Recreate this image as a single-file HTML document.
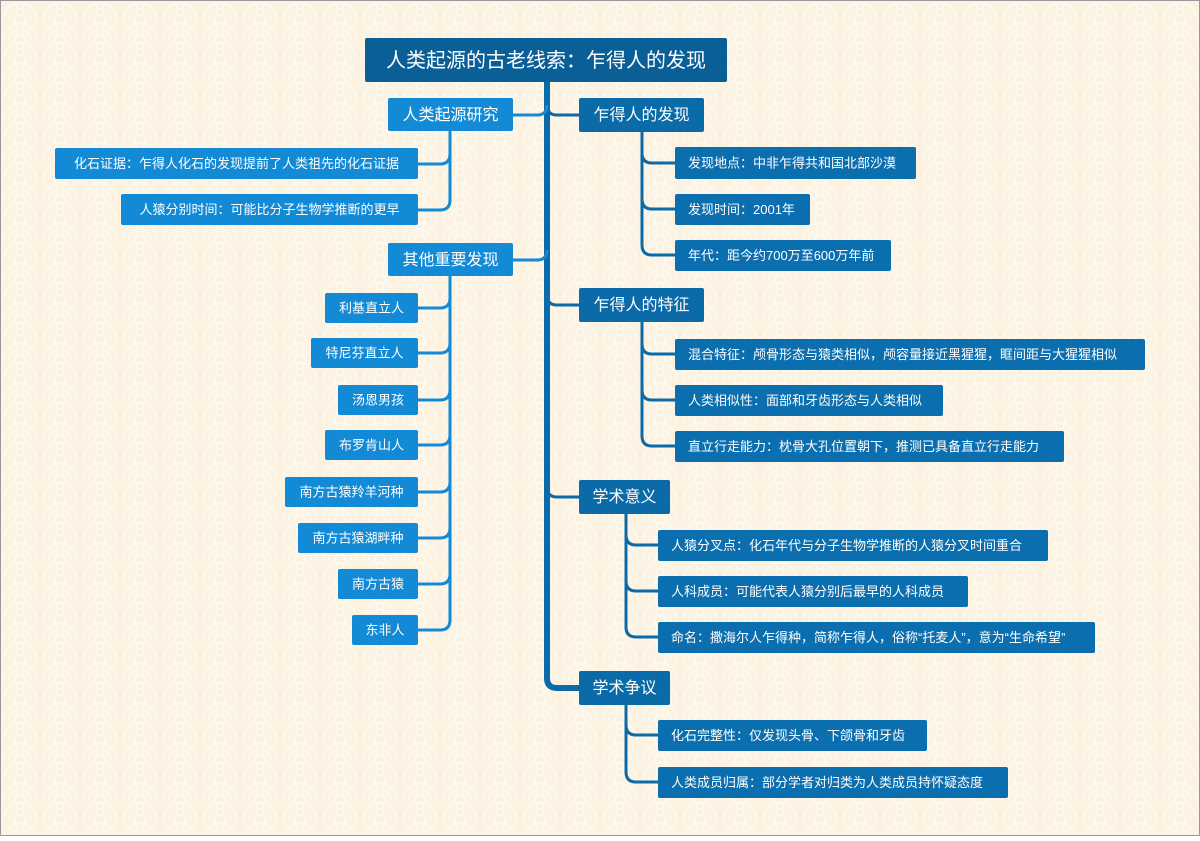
<!DOCTYPE html>
<html><head><meta charset="utf-8"><style>
html,body{margin:0;padding:0;}
body{width:1200px;height:836px;overflow:hidden;}
svg text{font-family:"Liberation Sans","Noto Sans CJK SC",sans-serif;fill:#fff;}
</style></head><body>
<svg width="1200" height="836" viewBox="0 0 1200 836" xmlns="http://www.w3.org/2000/svg">
<defs>
<pattern id="sg" width="40" height="20" patternUnits="userSpaceOnUse">
<rect width="40" height="20" fill="#fbf1df"/>
<g fill="none" stroke="#fffaf1" stroke-width="2.2">
<circle cx="20" cy="20" r="17"/><circle cx="20" cy="20" r="11"/><circle cx="20" cy="20" r="5"/>
<circle cx="0" cy="10" r="17"/><circle cx="40" cy="10" r="17"/>
</g>
</pattern>
</defs>
<rect width="1200" height="836" fill="#fbf3e4"/>
<rect width="1200" height="836" fill="url(#sg)" opacity="0.6"/>
<rect x="0.5" y="0.5" width="1199" height="835" fill="none" stroke="#999" stroke-width="1"/>

<!-- trunk -->
<g fill="none" stroke="#0b6aa8" stroke-width="6" stroke-linecap="round">
<path d="M547 82 V678 Q547 688 557 688 H580"/>
</g>
<g fill="none" stroke="#0b6aa8" stroke-width="3">
<path d="M547 105 Q547 115 557 115 H580"/>
<path d="M547 295 Q547 305 557 305 H580"/>
<path d="M547 487 Q547 497 557 497 H580"/>
<path d="M547 105 Q547 115 537 115 H513" stroke="#138ad6"/>
<path d="M547 250 Q547 260 537 260 H513" stroke="#138ad6"/>
<!-- right groups -->
<path d="M642 132 V153 Q642 163 652 163 H675 M642 153 V199 Q642 209 652 209 H675 M642 199 V245 Q642 255 652 255 H675"/>
<path d="M642 322 V344 Q642 354 652 354 H675 M642 344 V390 Q642 400 652 400 H675 M642 390 V436 Q642 446 652 446 H675"/>
<path d="M626 514 V535 Q626 545 636 545 H658 M626 535 V581 Q626 591 636 591 H658 M626 581 V627 Q626 637 636 637 H658"/>
<path d="M626 705 V725 Q626 735 636 735 H658 M626 725 V772 Q626 782 636 782 H658"/>
</g>
<g fill="none" stroke="#138ad6" stroke-width="3">
<path d="M450 131 V154 Q450 164 440 164 H418 M450 154 V200 Q450 210 440 210 H418"/>
<path d="M450 276 V298 Q450 308 440 308 H418 M450 298 V343 Q450 353 440 353 H418 M450 343 V390 Q450 400 440 400 H418 M450 390 V435 Q450 445 440 445 H418 M450 435 V482 Q450 492 440 492 H418 M450 482 V528 Q450 538 440 538 H418 M450 528 V574 Q450 584 440 584 H418 M450 574 V620 Q450 630 440 630 H418"/>
</g>

<!-- root -->
<rect x="365" y="38" width="362" height="44" rx="2" fill="#0b5f97"/>
<text x="546" y="67" font-size="20" text-anchor="middle">人类起源的古老线索：乍得人的发现</text>

<!-- L1 -->
<g font-size="16" text-anchor="middle">
<rect x="388" y="98" width="125" height="33" rx="2" fill="#138ad6"/><text x="450.5" y="120">人类起源研究</text>
<rect x="388" y="243" width="125" height="33" rx="2" fill="#138ad6"/><text x="450.5" y="265">其他重要发现</text>
<rect x="579" y="98" width="125" height="34" rx="2" fill="#0b6aa8"/><text x="641.5" y="120">乍得人的发现</text>
<rect x="579" y="288" width="125" height="34" rx="2" fill="#0b6aa8"/><text x="641.5" y="310">乍得人的特征</text>
<rect x="579" y="480" width="91" height="34" rx="2" fill="#0b6aa8"/><text x="624.5" y="502">学术意义</text>
<rect x="579" y="671" width="91" height="34" rx="2" fill="#0b6aa8"/><text x="624.5" y="693">学术争议</text>
</g>

<!-- left leaves -->
<g font-size="13" text-anchor="middle">
<g fill="#138ad6">
<rect x="55" y="148" width="363" height="31" rx="2"/>
<rect x="121" y="194" width="297" height="31" rx="2"/>
<rect x="325" y="293" width="93" height="30" rx="2"/>
<rect x="311" y="338" width="107" height="30" rx="2"/>
<rect x="338" y="385" width="80" height="30" rx="2"/>
<rect x="325" y="430" width="93" height="30" rx="2"/>
<rect x="285" y="477" width="133" height="30" rx="2"/>
<rect x="298" y="523" width="120" height="30" rx="2"/>
<rect x="338" y="569" width="80" height="30" rx="2"/>
<rect x="352" y="615" width="66" height="30" rx="2"/>
</g>
<text x="236.5" y="168">化石证据：乍得人化石的发现提前了人类祖先的化石证据</text>
<text x="269.5" y="214">人猿分别时间：可能比分子生物学推断的更早</text>
<text x="371.5" y="312.5">利基直立人</text>
<text x="364.5" y="357.5">特尼芬直立人</text>
<text x="378" y="404.5">汤恩男孩</text>
<text x="371.5" y="449.5">布罗肯山人</text>
<text x="351.5" y="496.5">南方古猿羚羊河种</text>
<text x="358" y="542.5">南方古猿湖畔种</text>
<text x="378" y="588.5">南方古猿</text>
<text x="385" y="634.5">东非人</text>
</g>

<!-- right leaves -->
<g font-size="13">
<g fill="#0b6eae">
<rect x="675" y="147" width="241" height="32" rx="2"/>
<rect x="675" y="194" width="135" height="31" rx="2"/>
<rect x="675" y="240" width="216" height="31" rx="2"/>
<rect x="675" y="339" width="470" height="31" rx="2"/>
<rect x="675" y="385" width="268" height="31" rx="2"/>
<rect x="675" y="431" width="389" height="31" rx="2"/>
<rect x="658" y="530" width="390" height="31" rx="2"/>
<rect x="658" y="576" width="310" height="31" rx="2"/>
<rect x="658" y="622" width="437" height="31" rx="2"/>
<rect x="658" y="720" width="269" height="31" rx="2"/>
<rect x="658" y="767" width="350" height="31" rx="2"/>
</g>
<text x="688" y="167.5">发现地点：中非乍得共和国北部沙漠</text>
<text x="688" y="214">发现时间：2001年</text>
<text x="688" y="260">年代：距今约700万至600万年前</text>
<text x="688" y="359">混合特征：颅骨形态与猿类相似，颅容量接近黑猩猩，眶间距与大猩猩相似</text>
<text x="688" y="405">人类相似性：面部和牙齿形态与人类相似</text>
<text x="688" y="451">直立行走能力：枕骨大孔位置朝下，推测已具备直立行走能力</text>
<text x="671" y="550">人猿分叉点：化石年代与分子生物学推断的人猿分叉时间重合</text>
<text x="671" y="596">人科成员：可能代表人猿分别后最早的人科成员</text>
<text x="671" y="642">命名：撒海尔人乍得种，简称乍得人，俗称“托麦人”，意为“生命希望”</text>
<text x="671" y="740">化石完整性：仅发现头骨、下颌骨和牙齿</text>
<text x="671" y="787">人类成员归属：部分学者对归类为人类成员持怀疑态度</text>
</g>
</svg>
</body></html>
